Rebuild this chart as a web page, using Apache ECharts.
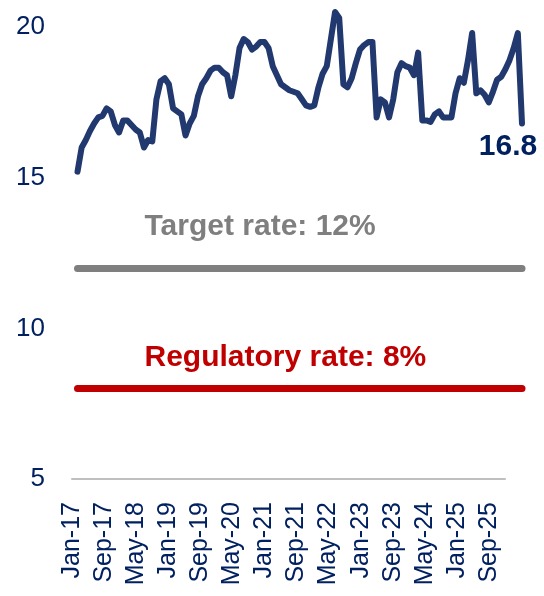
<!DOCTYPE html>
<html><head><meta charset="utf-8">
<script src="https://cdn.jsdelivr.net/npm/echarts@6/dist/echarts.min.js"></script>
<style>html,body{margin:0;padding:0;background:#fff}#c{width:544px;height:596px}</style>
</head><body><div id="c"></div>
<script>
const monthNames = ['Jan','Feb','Mar','Apr','May','Jun','Jul','Aug','Sep','Oct','Nov','Dec'];
const axisMonths = [];
for (let y = 17; y <= 26; y++) for (let m = 0; m < 12; m++) { if (y === 26 && m > 0) break; axisMonths.push(monthNames[m] + '-' + y); }
const lineMonths = axisMonths.slice(0, 108);
const ratio = [
15.2,16.0,16.25,16.55,16.8,17.0,17.05,17.3,17.2,16.75,
16.5,16.9,16.9,16.75,16.6,16.5,16.0,16.25,16.2,17.6,
18.2,18.3,18.1,17.3,17.2,17.1,16.4,16.8,17.05,17.7,
18.1,18.3,18.55,18.65,18.65,18.5,18.4,17.7,18.4,19.3,
19.6,19.5,19.25,19.35,19.5,19.5,19.3,18.7,18.4,18.1,
18.0,17.9,17.85,17.8,17.6,17.4,17.35,17.4,18.0,18.45,
18.7,19.6,20.5,20.3,18.1,18.0,18.3,18.8,19.25,19.4,
19.5,19.5,17.0,17.6,17.5,17.0,17.6,18.5,18.8,18.7,
18.65,18.4,19.15,16.9,16.9,16.85,17.1,17.2,17.0,17.0,
17.0,17.8,18.3,18.15,18.9,19.8,17.8,17.9,17.75,17.5,
17.85,18.25,18.35,18.6,18.9,19.3,19.8,16.8
];
const targetRate = 12;
const regulatoryRate = 8;
const yTicks = [5, 10, 15, 20];

const FONT = 'Liberation Sans';
const NAVY = '#002060';
const chart = echarts.init(document.getElementById('c'));
const lastIdx = ratio.length - 1;

chart.setOption({
  animation: false,
  grid: [
    { left: 72, right: 39, top: 27, bottom: 117 },
    { left: 77.5, right: 22, top: 27, bottom: 117 }
  ],
  xAxis: [
    { type: 'category', gridIndex: 0, data: axisMonths, boundaryGap: false,
      axisLine: { show: true, lineStyle: { color: '#BFBFBF', width: 2 } },
      axisTick: { show: false },
      axisLabel: { interval: 7, rotate: 90, margin: 23, color: NAVY, fontFamily: FONT, fontSize: 25 } },
    { type: 'category', gridIndex: 1, data: lineMonths, boundaryGap: false, show: false }
  ],
  yAxis: [
    { type: 'value', gridIndex: 0, min: yTicks[0], max: yTicks[yTicks.length - 1], interval: 5,
      axisLine: { show: false }, axisTick: { show: false }, splitLine: { show: false },
      axisLabel: { margin: 27, color: NAVY, fontFamily: FONT, fontSize: 26 } },
    { type: 'value', gridIndex: 1, min: yTicks[0], max: yTicks[yTicks.length - 1], interval: 5, show: false }
  ],
  series: [
    { type: 'line', xAxisIndex: 1, yAxisIndex: 1, data: ratio, clip: false,
      symbol: 'none', lineStyle: { color: '#22396F', width: 6, cap: 'round', join: 'round' },
      markPoint: {
        silent: true, symbol: 'circle', symbolSize: 0,
        data: [{ coord: [lineMonths[lastIdx], ratio[lastIdx]], value: ratio[lastIdx] }],
        label: { show: true, position: 'bottom', distance: 8, offset: [-14, 0], formatter: '{c}', color: NAVY, fontFamily: FONT, fontWeight: 'bold', fontSize: 30 }
      },
      markLine: {
        silent: true, symbol: 'none',
        data: [
          { yAxis: targetRate, lineStyle: { color: '#7F7F7F', width: 7, type: 'solid', cap: 'round' },
            label: { show: true, position: 'insideStartTop', distance: [67, 26], formatter: 'Target rate: 12%', color: '#7F7F7F', fontFamily: FONT, fontWeight: 'bold', fontSize: 30 } },
          { yAxis: regulatoryRate, lineStyle: { color: '#C00000', width: 7, type: 'solid', cap: 'round' },
            label: { show: true, position: 'insideStartTop', distance: [67, 16], formatter: 'Regulatory rate: 8%', color: '#C00000', fontFamily: FONT, fontWeight: 'bold', fontSize: 30 } }
        ]
      }
    }
  ]
});
</script></body></html>
